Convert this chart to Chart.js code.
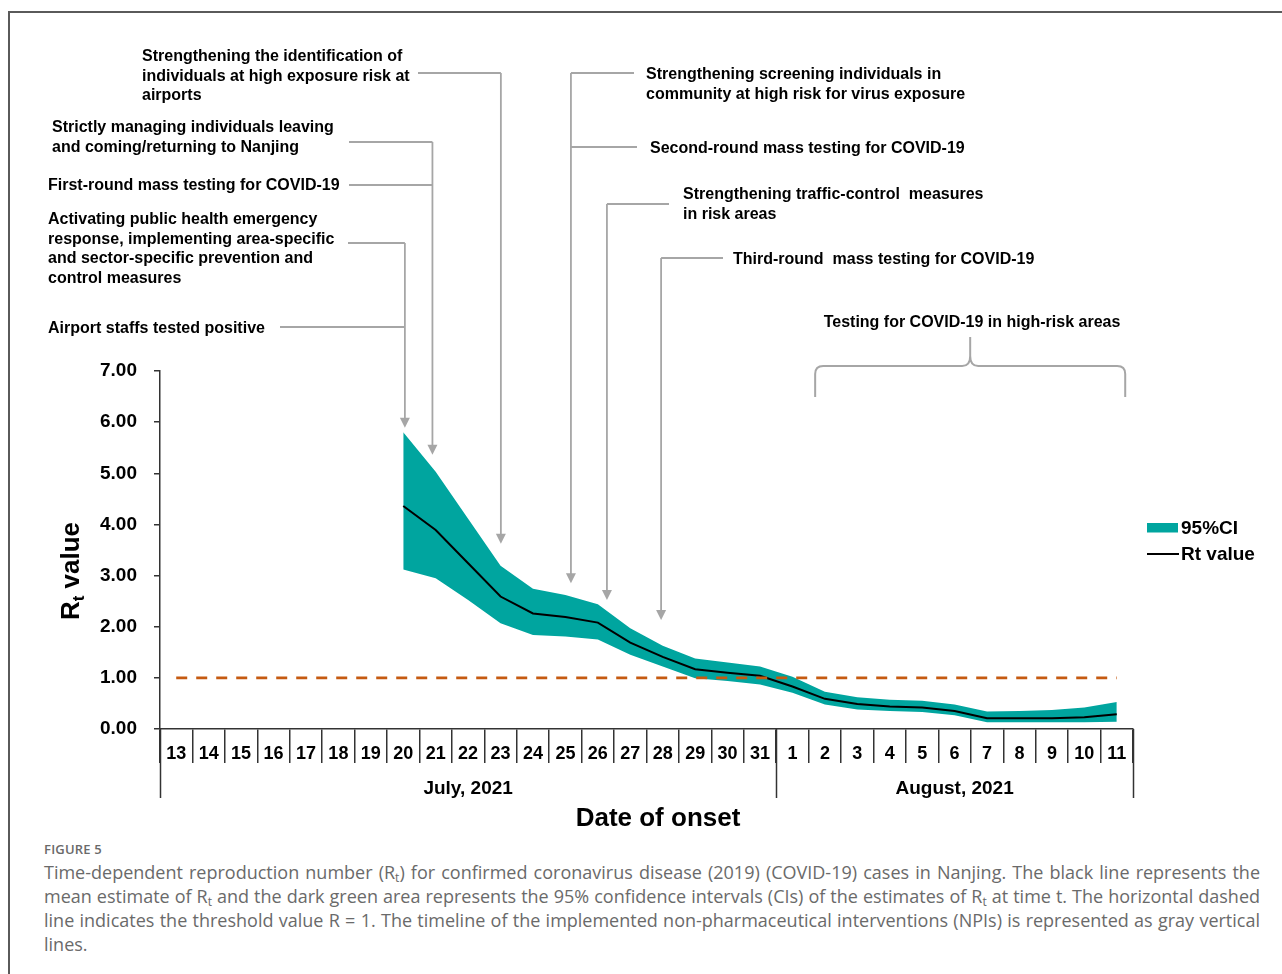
<!DOCTYPE html>
<html>
<head>
<meta charset="utf-8">
<title>Time-dependent reproduction number, Nanjing 2021</title>
<script src="https://cdn.jsdelivr.net/npm/chart.js@4.4.1/dist/chart.umd.min.js"></script>
<style>
  html, body { margin: 0; padding: 0; background: #fff; }
  body { width: 1282px; height: 974px; position: relative; overflow: hidden; }
  #frame { position: absolute; left: 8px; top: 11px; right: 0; bottom: 0;
           border-top: 2px solid #5a5a5a; border-left: 2px solid #5a5a5a; }
  #chart { position: absolute; left: 0; top: 0; }
  #figlabel { position: absolute; left: 44px; top: 840px; font: 600 13px "Open Sans", sans-serif;
              color: #6a6a6a; letter-spacing: 0.2px; }
  #caption { position: absolute; left: 44px; top: 860px; width: 1216px;
             font: 18px/24px "Open Sans", sans-serif; color: #6a6a6a; }
  #caption div { white-space: nowrap; text-align: justify; text-align-last: justify; }
  #caption div.last { text-align-last: left; }
  #caption sub { font-size: 12px; line-height: 0; vertical-align: -3px; }
</style>
</head>
<body>
<div id="frame"></div>
<canvas id="chart" width="1282" height="840"></canvas>
<div id="figlabel">FIGURE 5</div>
<div id="caption">
  <div>Time-dependent reproduction number (R<sub>t</sub>) for confirmed coronavirus disease (2019) (COVID-19) cases in Nanjing. The black line represents the</div>
  <div>mean estimate of R<sub>t</sub> and the dark green area represents the 95% confidence intervals (CIs) of the estimates of R<sub>t</sub> at time t. The horizontal dashed</div>
  <div>line indicates the threshold value R = 1. The timeline of the implemented non-pharmaceutical interventions (NPIs) is represented as gray vertical</div>
  <div class="last">lines.</div>
</div>

<script>
// ---- data ---------------------------------------------------------------
const days = ['13','14','15','16','17','18','19','20','21','22','23','24','25','26','27','28','29','30','31',
              '1','2','3','4','5','6','7','8','9','10','11'];
const monthLabels = ['July, 2021', 'August, 2021'];
const monthDayCounts = [19, 11];

const rtMean  = [null, null, null, null, null, null, null,
                 4.36, 3.89, 3.24, 2.59, 2.26, 2.19, 2.08, 1.69, 1.41, 1.17, 1.10, 1.04,
                 0.83, 0.59, 0.49, 0.44, 0.42, 0.35, 0.21, 0.21, 0.21, 0.23, 0.29];
const ciUpper = [null, null, null, null, null, null, null,
                 5.80, 5.03, 4.11, 3.19, 2.74, 2.62, 2.44, 1.97, 1.63, 1.38, 1.30, 1.22,
                 1.02, 0.73, 0.62, 0.57, 0.55, 0.48, 0.34, 0.35, 0.37, 0.42, 0.53];
const ciLower = [null, null, null, null, null, null, null,
                 3.12, 2.95, 2.52, 2.07, 1.84, 1.81, 1.75, 1.45, 1.22, 0.99, 0.94, 0.87,
                 0.71, 0.48, 0.38, 0.35, 0.33, 0.27, 0.13, 0.13, 0.13, 0.13, 0.14];
const threshold = 1;

const yTickValues = [0, 1, 2, 3, 4, 5, 6, 7];
const legendLabels = ['95%CI', 'Rt value'];

// Non-pharmaceutical interventions (text of each note)
const npiNotes = [
  ['Strengthening the identification of', 'individuals at high exposure risk at', 'airports'],
  ['Strictly managing individuals leaving', 'and coming/returning to Nanjing'],
  ['First-round mass testing for COVID-19'],
  ['Activating public health emergency', 'response, implementing area-specific',
   'and sector-specific prevention and', 'control measures'],
  ['Airport staffs tested positive'],
  ['Strengthening screening individuals in', 'community at high risk for virus exposure'],
  ['Second-round mass testing for COVID-19'],
  ['Strengthening traffic-control  measures', 'in risk areas'],
  ['Third-round  mass testing for COVID-19'],
  ['Testing for COVID-19 in high-risk areas']
];

// ---- styling / layout ----------------------------------------------------
const TEAL = '#00a59f';
const ORANGE = '#c55a11';
const NOTE_GRAY = '#a6a6a6';
const AXIS = '#333333';
const FONT = '"Liberation Sans", Arial, sans-serif';

// where each note's text sits (left x, first line centre y)
const noteBoxes = [
  { x: 142, y: 57 }, { x: 52, y: 128 }, { x: 48, y: 186 }, { x: 48, y: 220 },
  { x: 48, y: 329 }, { x: 646, y: 75 }, { x: 650, y: 149 }, { x: 683, y: 195 },
  { x: 733, y: 260 }, { x: 972, y: 323, center: true }
];
const NOTE_LINE = 19.4;

// leader lines: arrow at a (fractional) category position pointing down to an Rt level;
// each feeder is [note index, y of the horizontal run, x where it starts]
const arrows = [
  { at: 7.05,  tip: 5.89, feeders: [[3, 243, 348], [4, 327, 280]] },
  { at: 7.90,  tip: 5.36, feeders: [[1, 142, 349], [2, 185, 349]] },
  { at: 10.01, tip: 3.62, feeders: [[0, 73, 418]] },
  { at: 12.17, tip: 2.85, feeders: [[5, 73, 634], [6, 147, 637]] },
  { at: 13.28, tip: 2.52, feeders: [[7, 204, 669]] },
  { at: 14.95, tip: 2.13, feeders: [[8, 258, 723]] }
];
const brace = { from: 19.7, to: 29.26, top: 337, bar: 366, bottom: 397 };

const CANVAS_H = 840;
const PLOT = { left: 160, right: 1133, top: 371, bottom: 729 };

const overlay = {
  id: 'overlay',
  afterDraw(chart) {
    const ctx = chart.ctx;
    const xs = chart.scales.x, ys = chart.scales.y;
    const bottom = chart.chartArea.bottom;
    ctx.save();

    // month brackets below the day ticks
    ctx.strokeStyle = AXIS; ctx.lineWidth = 1.5;
    let start = 0;
    const bounds = [-0.5];
    monthDayCounts.forEach(n => { start += n; bounds.push(start - 0.5); });
    bounds.forEach(b => {
      const px = Math.round(xs.getPixelForValue(b)) + 0.5;
      ctx.beginPath(); ctx.moveTo(px, bottom); ctx.lineTo(px, bottom + 69); ctx.stroke();
    });
    ctx.fillStyle = '#000';
    ctx.font = 'bold 19px ' + FONT;
    ctx.textAlign = 'center'; ctx.textBaseline = 'middle';
    monthLabels.forEach((m, i) => {
      const cx = (xs.getPixelForValue(bounds[i]) + xs.getPixelForValue(bounds[i + 1])) / 2;
      ctx.fillText(m, cx, bottom + 60);
    });

    // axis titles
    ctx.font = 'bold 26px ' + FONT;
    ctx.fillText('Date of onset', 658, 819);

    ctx.save();
    ctx.translate(79, 571);
    ctx.rotate(-Math.PI / 2);
    ctx.textAlign = 'left'; ctx.textBaseline = 'alphabetic';
    const big = 'bold 26px ' + FONT, small = 'bold 17px ' + FONT;
    ctx.font = big; const wR = ctx.measureText('R').width; const wV = ctx.measureText(' value').width;
    ctx.font = small; const wT = ctx.measureText('t').width;
    let tx = -(wR + wT + wV) / 2;
    ctx.font = big; ctx.fillText('R', tx, 0); tx += wR;
    ctx.font = small; ctx.fillText('t', tx, 5); tx += wT;
    ctx.font = big; ctx.fillText(' value', tx, 0);
    ctx.restore();

    // legend
    const ds = chart.data.datasets;
    ctx.fillStyle = ds[0].backgroundColor;
    ctx.fillRect(1147, 523, 31, 9.5);
    ctx.strokeStyle = ds[2].borderColor; ctx.lineWidth = 2;
    ctx.beginPath(); ctx.moveTo(1147, 554); ctx.lineTo(1179, 554); ctx.stroke();
    ctx.fillStyle = '#000';
    ctx.font = 'bold 19px ' + FONT;
    ctx.textAlign = 'left'; ctx.textBaseline = 'middle';
    ctx.fillText(legendLabels[0], 1181, 529);
    ctx.fillText(legendLabels[1], 1181, 555);

    // intervention notes
    ctx.font = 'bold 16px ' + FONT;
    npiNotes.forEach((lines, i) => {
      const b = noteBoxes[i];
      ctx.textAlign = b.center ? 'center' : 'left';
      lines.forEach((l, k) => ctx.fillText(l, b.x, b.y + k * NOTE_LINE));
    });

    // leader lines and arrow heads
    ctx.strokeStyle = NOTE_GRAY; ctx.fillStyle = NOTE_GRAY; ctx.lineWidth = 1.8;
    arrows.forEach(a => {
      const ax = xs.getPixelForValue(a.at);
      const tipY = ys.getPixelForValue(a.tip);
      const topY = Math.min(...a.feeders.map(f => f[1]));
      a.feeders.forEach(f => {
        ctx.beginPath(); ctx.moveTo(f[2], f[1]); ctx.lineTo(ax, f[1]); ctx.stroke();
      });
      ctx.beginPath(); ctx.moveTo(ax, topY); ctx.lineTo(ax, tipY - 8); ctx.stroke();
      ctx.beginPath();
      ctx.moveTo(ax - 5, tipY - 10); ctx.lineTo(ax + 5, tipY - 10); ctx.lineTo(ax, tipY);
      ctx.closePath(); ctx.fill();
    });

    // curly brace over the August testing period
    const bl = xs.getPixelForValue(brace.from), br = xs.getPixelForValue(brace.to);
    const bc = (bl + br) / 2;
    ctx.lineWidth = 2;
    ctx.beginPath();
    ctx.moveTo(bl, brace.bottom); ctx.lineTo(bl, brace.bar + 8);
    ctx.quadraticCurveTo(bl, brace.bar, bl + 8, brace.bar);
    ctx.lineTo(bc - 8, brace.bar);
    ctx.quadraticCurveTo(bc, brace.bar, bc, brace.bar - 10);
    ctx.lineTo(bc, brace.top);
    ctx.moveTo(bc, brace.bar - 10);
    ctx.quadraticCurveTo(bc, brace.bar, bc + 8, brace.bar);
    ctx.lineTo(br - 8, brace.bar);
    ctx.quadraticCurveTo(br, brace.bar, br, brace.bar + 8);
    ctx.lineTo(br, brace.bottom);
    ctx.stroke();

    ctx.restore();
  }
};

new Chart(document.getElementById('chart'), {
  type: 'line',
  data: {
    labels: days,
    datasets: [
      { label: legendLabels[0], data: ciUpper, fill: '+1', backgroundColor: TEAL,
        borderColor: TEAL, borderWidth: 0, pointRadius: 0, tension: 0, order: 3 },
      { label: 'lower', data: ciLower, fill: false, borderColor: TEAL, borderWidth: 0,
        pointRadius: 0, tension: 0, order: 2 },
      { label: legendLabels[1], data: rtMean, fill: false, borderColor: '#000', borderWidth: 2,
        pointRadius: 0, tension: 0, order: 1 },
      { label: 'R = 1', data: days.map(() => threshold), fill: false, borderColor: ORANGE,
        borderWidth: 2.6, borderDash: [11, 9], pointRadius: 0, order: 0 }
    ]
  },
  options: {
    responsive: false,
    animation: false,
    events: [],
    layout: { padding: { left: 0, top: PLOT.top, right: 1282 - PLOT.right, bottom: 0 } },
    plugins: { legend: { display: false }, tooltip: { enabled: false }, title: { display: false } },
    scales: {
      x: {
        type: 'category',
        offset: true,
        grid: { offset: true, drawOnChartArea: false, drawTicks: true, tickLength: 34,
                color: AXIS, lineWidth: 1.5 },
        border: { display: true, color: AXIS, width: 1.5 },
        ticks: { color: '#000', font: { family: FONT, weight: 'bold', size: 18 },
                 padding: -20, maxRotation: 0, autoSkip: false },
        afterFit: s => { s.height = CANVAS_H - PLOT.bottom; }
      },
      y: {
        min: 0, max: 7,
        afterBuildTicks: s => { s.ticks = yTickValues.map(v => ({ value: v })); },
        grid: { drawOnChartArea: false, drawTicks: true, tickLength: 6, color: AXIS, lineWidth: 1.5 },
        border: { display: true, color: AXIS, width: 1.5 },
        ticks: { color: '#000', font: { family: FONT, weight: 'bold', size: 19 }, padding: 17,
                 callback: v => Number(v).toFixed(2) },
        afterFit: s => { s.width = PLOT.left; }
      }
    }
  },
  plugins: [overlay]
});
</script>
</body>
</html>
